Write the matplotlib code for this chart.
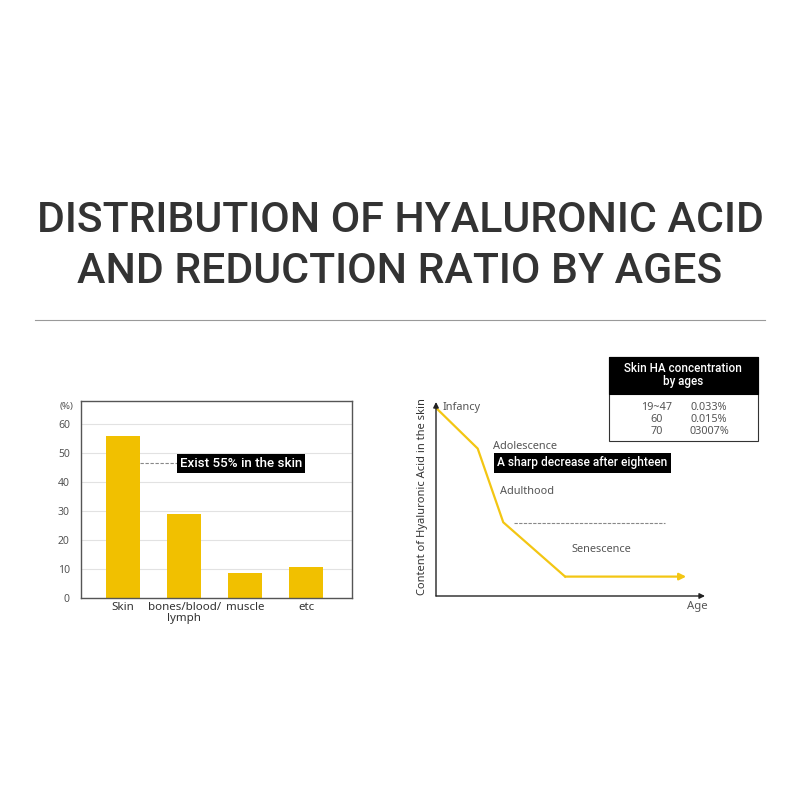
import matplotlib
matplotlib.use('Agg')
import matplotlib.pyplot as plt
from matplotlib import font_manager
from matplotlib.lines import Line2D
from matplotlib.patches import Rectangle

# ---- data ----
categories = ['Skin', 'bones/blood/\nlymph', 'muscle', 'etc']
share_pct = [56, 29, 8.5, 10.7]
y_ticks = [0, 10, 20, 30, 40, 50, 60]

stages = ['Infancy', 'Adolescence', 'Adulthood', 'Senescence']
curve_age = [0, 15.5, 25, 48, 93]
curve_content = [97, 76, 38, 10, 10]

table_ages = ['19~47', '60', '70']
table_conc = ['0.033%', '0.015%', '03007%']

title_lines = ['DISTRIBUTION OF HYALURONIC ACID', 'AND REDUCTION RATIO BY AGES']

# pick fonts that are installed
names = {f.name for f in font_manager.fontManager.ttflist}
body_font = 'Noto Sans CJK KR' if 'Noto Sans CJK KR' in names else 'Noto Sans'
title_font = 'Roboto' if 'Roboto' in names else body_font
plt.rcParams['font.family'] = [body_font, 'DejaVu Sans']

W = H = 800
YELLOW = '#F1C000'
LINE_YELLOW = '#F3C613'
GREY_TXT = '#555555'


def fx(x):
    return x / W


def fy(y):
    return 1 - y / H


fig = plt.figure(figsize=(8, 8), dpi=100, facecolor='white')
renderer = fig.canvas.get_renderer()

# ---- title, sized so the first line spans the same width as the reference ----
t1 = fig.text(0.5, fy(232), title_lines[0], ha='center', va='baseline',
              fontsize=36, color='#333333', family=title_font, fontweight='medium')
w = t1.get_window_extent(renderer).width
fs = 36 * 727 / w
t1.set_fontsize(fs)
fig.text(0.5, fy(283), title_lines[1], ha='center', va='baseline',
         fontsize=fs, color='#333333', family=title_font, fontweight='medium')

fig.add_artist(Line2D([fx(35), fx(765)], [fy(320), fy(320)], color='#9a9a9a', lw=0.8))

# ---- left: bar chart ----
ax1 = fig.add_axes([fx(81), fy(598), 271 / W, 197 / H])
x = list(range(len(categories)))
ax1.bar(x, share_pct, width=0.55, color=YELLOW, zorder=2)
ax1.set_xlim(-0.69, 3.75)
ax1.set_ylim(0, 68)
ax1.set_yticks(y_ticks)
ax1.set_xticks(x)
ax1.set_xticklabels(categories, fontsize=8.3, color='#333333', linespacing=1.0)
ax1.tick_params(axis='y', length=0, pad=8, labelsize=7.5, labelcolor=GREY_TXT)
ax1.tick_params(axis='x', length=0, pad=3)
ax1.yaxis.grid(True, color='#e2e2e2', lw=0.8, zorder=0)
ax1.set_axisbelow(True)
for s in ax1.spines.values():
    s.set_color('#555555')
    s.set_linewidth(1.0)
fig.text(fx(67), fy(407), '(%)', ha='center', va='center', fontsize=7, color=GREY_TXT)

ax1.plot([0.275, 0.9], [46.5, 46.5], ls=(0, (3, 1.5)), color='#888888', lw=0.8, zorder=3)
ax1.text(0.93, 46.5, 'Exist 55% in the skin', ha='left', va='center', fontsize=9.6,
         color='white', zorder=4, family=title_font, fontweight='medium',
         bbox=dict(boxstyle='square,pad=0.22', fc='black', ec='none'))

# ---- right: schematic decline curve ----
ax2 = fig.add_axes([fx(436), fy(596), 269 / W, 194 / H])
ax2.set_xlim(0, 100)
ax2.set_ylim(0, 100)
ax2.axis('off')
arrow_kw = dict(arrowstyle='-|>', color='#222222', lw=1.0, mutation_scale=8,
                shrinkA=0, shrinkB=0)
ax2.annotate('', xy=(100, 0), xytext=(0, 0), arrowprops=arrow_kw, annotation_clip=False)
ax2.annotate('', xy=(0, 100), xytext=(0, 0), arrowprops=arrow_kw, annotation_clip=False)

ax2.plot(curve_age[:-1], curve_content[:-1], color=LINE_YELLOW, lw=1.6,
         solid_joinstyle='round', clip_on=False)
ax2.annotate('', xy=(curve_age[-1], curve_content[-1]),
             xytext=(curve_age[-2], curve_content[-2]),
             arrowprops=dict(arrowstyle='-|>', color=LINE_YELLOW, lw=1.6,
                             mutation_scale=10, shrinkA=0, shrinkB=0))

stage_pos = [(2.6, 97.4), (21.2, 77.3), (23.8, 54.1), (50.2, 24.2)]
for label, (sx, sy) in zip(stages, stage_pos):
    ax2.text(sx, sy, label, ha='left', va='center', fontsize=7.9, color=GREY_TXT,
             clip_on=False)

ax2.text(22.8, 68.6, 'A sharp decrease after eighteen', ha='left', va='center',
         fontsize=8.6, color='white', family=title_font, fontweight='medium',
         bbox=dict(boxstyle='square,pad=0.3', fc='black', ec='none'))
ax2.plot([29, 85], [37.6, 37.6], ls=(0, (3, 1.2)), color='#888888', lw=0.8)

fig.text(fx(422), fy(497), 'Content of Hyaluronic Acid in the skin', rotation=90,
         ha='center', va='center', fontsize=8.0, color='#333333')
fig.text(fx(697), fy(607), 'Age', ha='center', va='center', fontsize=8.2, color=GREY_TXT)

# ---- table box ----
fig.add_artist(Rectangle((fx(609), fy(441)), 149 / W, 84 / H, transform=fig.transFigure,
                         fc='white', ec='#333333', lw=0.8))
fig.add_artist(Rectangle((fx(609), fy(394)), 149 / W, 37 / H, transform=fig.transFigure,
                         fc='black', ec='black', lw=0.8))
fig.text(fx(683), fy(375), 'Skin HA concentration\nby ages', ha='center', va='center',
         fontsize=8.4, color='white', linespacing=1.1, family=title_font,
         fontweight='medium')
for i, (a, c) in enumerate(zip(table_ages, table_conc)):
    yy = 407 + i * 12.5
    fig.text(fx(657), fy(yy), a, ha='center', va='center', fontsize=7.8, color=GREY_TXT)
    fig.text(fx(709), fy(yy), c, ha='center', va='center', fontsize=7.8, color=GREY_TXT)

fig.savefig('out.png', dpi=100, facecolor='white')
